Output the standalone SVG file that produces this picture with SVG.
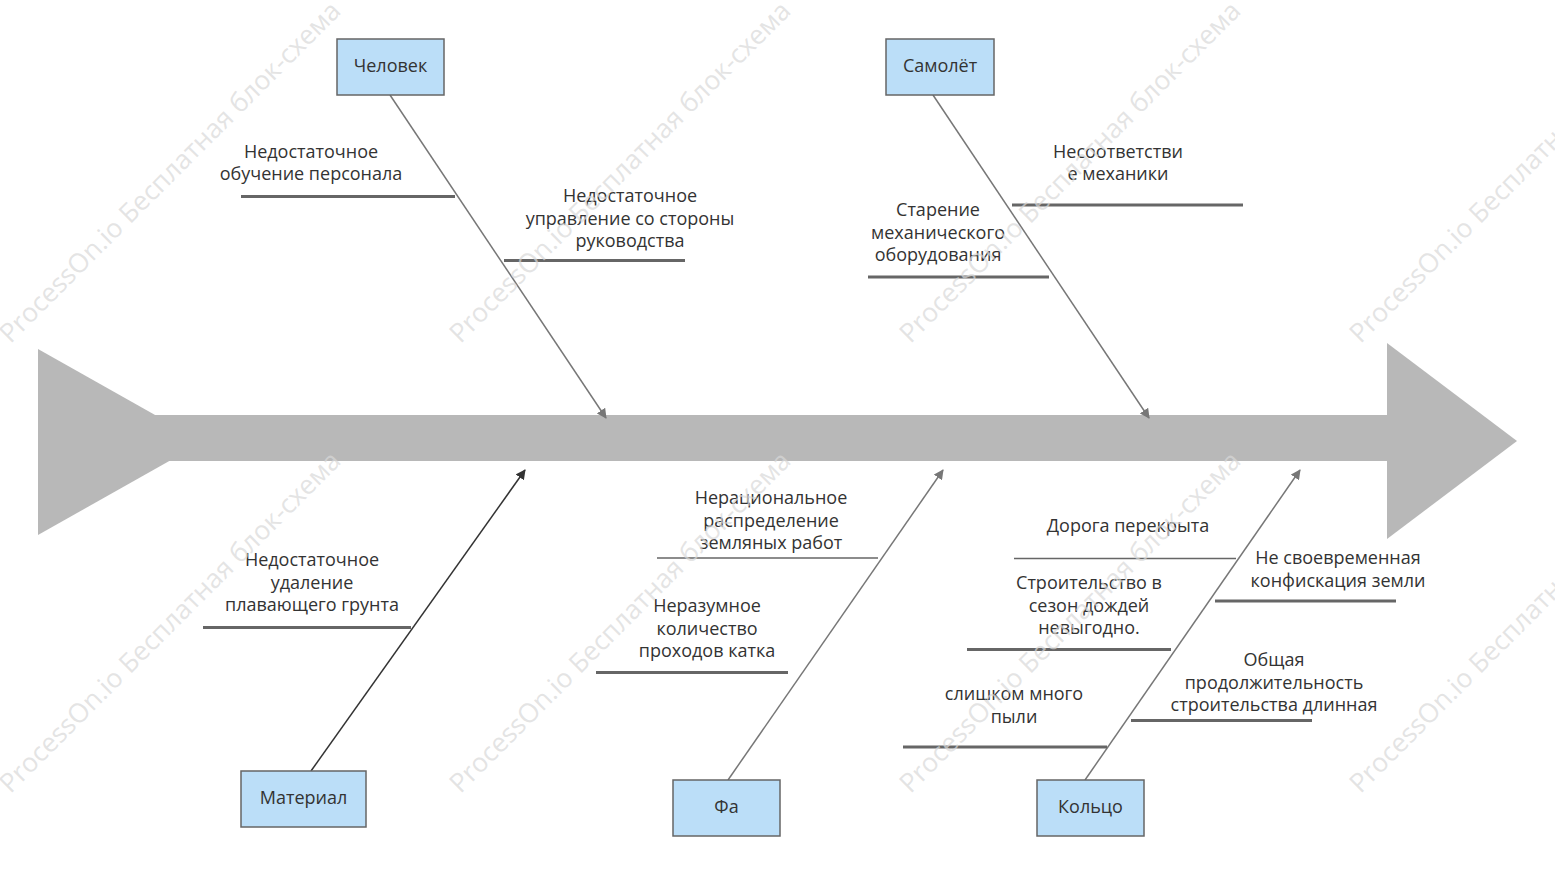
<svg xmlns="http://www.w3.org/2000/svg" width="1555" height="871" viewBox="0 0 1555 871">
<style>
.box{fill:#bbdef8;stroke:#666;stroke-width:1.5}
.t{font-family:"Open Sans","Noto Sans",sans-serif;font-size:18px;fill:#333;text-anchor:middle}
.br{stroke:#666;stroke-width:3;fill:none}
.brt{stroke:#666;stroke-width:1.5;fill:none}
.c{stroke:#777;stroke-width:1.5;fill:none;marker-end:url(#ag)}
.cd{stroke:#333;stroke-width:1.5;fill:none;marker-end:url(#ad)}
.wm{font-family:"Open Sans","Noto Sans",sans-serif;font-size:26.5px;fill:#d8d8d8;fill-opacity:0.7;text-anchor:middle}
</style>
<defs>
<marker id="ag" viewBox="0 0 10 10" refX="9" refY="5" markerWidth="10" markerHeight="10" markerUnits="userSpaceOnUse" orient="auto"><path d="M0,0 L10,5 L0,10 Z" fill="#777"/></marker>
<marker id="ad" viewBox="0 0 10 10" refX="9" refY="5" markerWidth="10" markerHeight="10" markerUnits="userSpaceOnUse" orient="auto"><path d="M0,0 L10,5 L0,10 Z" fill="#333"/></marker>
</defs>
<rect width="1555" height="871" fill="#fff"/>
<g id="spine" fill="#b8b8b8">
<polygon points="38,349 203,442 38,535"/>
<rect x="155" y="415" width="1240" height="46"/>
<polygon points="1387,343 1517,441 1387,539"/>
</g>
<g id="connectors">
<line class="c" x1="390" y1="95" x2="606" y2="418"/>
<line class="c" x1="933" y1="95" x2="1149" y2="418"/>
<line class="cd" x1="311" y1="771" x2="525" y2="470"/>
<line class="c" x1="728" y1="780" x2="943" y2="470"/>
<line class="c" x1="1085" y1="780" x2="1300" y2="470"/>
</g>
<g id="node-chelovek"><rect class="box" x="337" y="39" width="107" height="56"/><text class="t" x="390.5" y="72">Человек</text></g>
<g id="node-samolet"><rect class="box" x="886" y="39" width="108" height="56"/><text class="t" x="940" y="72">Самолёт</text></g>
<g id="node-material"><rect class="box" x="241" y="771" width="125" height="56"/><text class="t" x="303.5" y="804">Материал</text></g>
<g id="node-fa"><rect class="box" x="673" y="780" width="107" height="56"/><text class="t" x="726.5" y="813">Фа</text></g>
<g id="node-koltso"><rect class="box" x="1037" y="780" width="107" height="56"/><text class="t" x="1090.5" y="813">Кольцо</text></g>
<g id="cause-1"><line class="br" x1="241" y1="196.5" x2="455" y2="196.5"/><text class="t" x="311" y="158">Недостаточное</text><text class="t" x="311" y="180">обучение персонала</text></g>
<g id="cause-2"><line class="br" x1="504" y1="260.5" x2="685" y2="260.5"/><text class="t" x="630" y="202">Недостаточное</text><text class="t" x="630" y="224.5">управление со стороны</text><text class="t" x="630" y="247">руководства</text></g>
<g id="cause-3"><line class="br" x1="1012" y1="205" x2="1243" y2="205"/><text class="t" x="1118" y="158">Несоответстви</text><text class="t" x="1118" y="180">е механики</text></g>
<g id="cause-4"><line class="br" x1="868" y1="277" x2="1049" y2="277"/><text class="t" x="938" y="216">Старение</text><text class="t" x="938" y="238.5">механического</text><text class="t" x="938" y="261">оборудования</text></g>
<g id="cause-5"><line class="brt" x1="657" y1="558" x2="878" y2="558"/><text class="t" x="771" y="504">Нерациональное</text><text class="t" x="771" y="526.5">распределение</text><text class="t" x="771" y="549">земляных работ</text></g>
<g id="cause-6"><line class="br" x1="596" y1="672.5" x2="788" y2="672.5"/><text class="t" x="707" y="612">Неразумное</text><text class="t" x="707" y="634.5">количество</text><text class="t" x="707" y="657">проходов катка</text></g>
<g id="cause-7"><line class="br" x1="203" y1="627.5" x2="411" y2="627.5"/><text class="t" x="312" y="566">Недостаточное</text><text class="t" x="312" y="588.5">удаление</text><text class="t" x="312" y="611">плавающего грунта</text></g>
<g id="cause-8"><line class="brt" x1="1014" y1="558.5" x2="1236" y2="558.5"/><text class="t" x="1128" y="532">Дорога перекрыта</text></g>
<g id="cause-9"><line class="br" x1="1215" y1="601" x2="1396" y2="601"/><text class="t" x="1338" y="564">Не своевременная</text><text class="t" x="1338" y="586.5">конфискация земли</text></g>
<g id="cause-10"><line class="br" x1="967" y1="649.5" x2="1171" y2="649.5"/><text class="t" x="1089" y="589">Строительство в</text><text class="t" x="1089" y="611.5">сезон дождей</text><text class="t" x="1089" y="634">невыгодно.</text></g>
<g id="cause-11"><line class="br" x1="903" y1="747" x2="1107" y2="747"/><text class="t" x="1014" y="700">слишком много</text><text class="t" x="1014" y="723">пыли</text></g>
<g id="cause-12"><line class="br" x1="1131" y1="720.5" x2="1312" y2="720.5"/><text class="t" x="1274" y="666">Общая</text><text class="t" x="1274" y="689">продолжительность</text><text class="t" x="1274" y="711">строительства длинная</text></g>
<g id="watermark">
<text class="wm" transform="translate(170,172) rotate(-45)" y="9">ProcessOn.io Бесплатная блок-схема</text>
<text class="wm" transform="translate(620,172) rotate(-45)" y="9">ProcessOn.io Бесплатная блок-схема</text>
<text class="wm" transform="translate(1070,172) rotate(-45)" y="9">ProcessOn.io Бесплатная блок-схема</text>
<text class="wm" transform="translate(1520,172) rotate(-45)" y="9">ProcessOn.io Бесплатная блок-схема</text>
<text class="wm" transform="translate(170,622) rotate(-45)" y="9">ProcessOn.io Бесплатная блок-схема</text>
<text class="wm" transform="translate(620,622) rotate(-45)" y="9">ProcessOn.io Бесплатная блок-схема</text>
<text class="wm" transform="translate(1070,622) rotate(-45)" y="9">ProcessOn.io Бесплатная блок-схема</text>
<text class="wm" transform="translate(1520,622) rotate(-45)" y="9">ProcessOn.io Бесплатная блок-схема</text>
</g>
</svg>
